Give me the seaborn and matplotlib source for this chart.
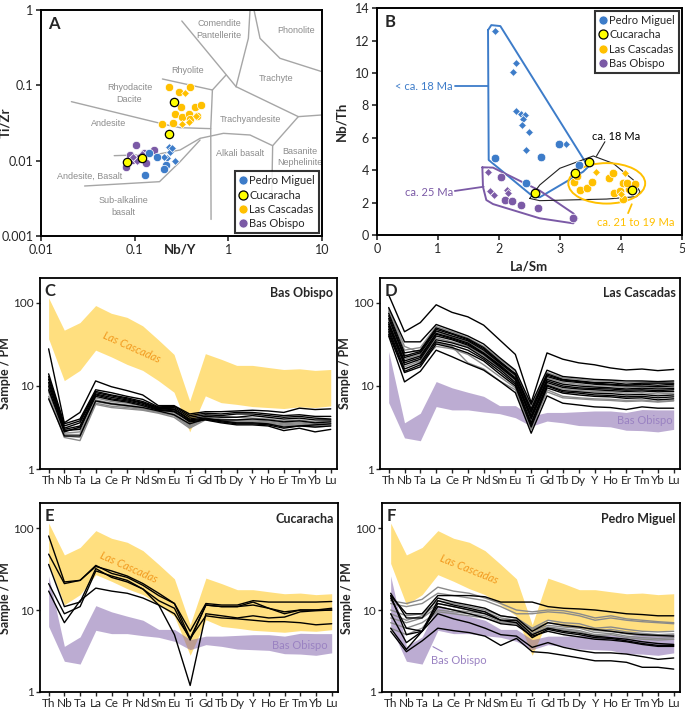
import numpy as np
import pandas as pd
import seaborn as sns
import matplotlib.pyplot as plt
from matplotlib.lines import Line2D
from matplotlib.patches import Ellipse
from matplotlib.ticker import NullLocator

sns.set_style("ticks")
plt.rcParams['font.family'] = ['Lato', 'DejaVu Sans']

BLUE = "#3D7CC9"
YELLOW = "#FFFF00"
ORANGE = "#FFC000"
PURPLE = "#7B5AA6"
FIELD = "#8C8C8C"

# ---- Panel A: Nb/Y vs Ti/Zr (Winchester & Floyd) ----
pm_circ_nby = [0.1275, 0.1726, 0.1407, 0.217, 0.2067]
pm_circ_tizr = [0.00645, 0.0113, 0.01277, 0.00876, 0.00767]
pm_diam_nby = [0.230, 0.2393, 0.2243, 0.271, 0.2067, 0.2496]
pm_diam_tizr = [0.01534, 0.01317, 0.01074, 0.0099, 0.0113, 0.01458]
cuc_nby = [0.264, 0.2338, 0.1194, 0.0833]
cuc_tizr = [0.0595, 0.0226, 0.01096, 0.0097]
lc_circ_nby = [0.230, 0.299, 0.391, 0.309, 0.271, 0.322, 0.379, 0.442, 0.517, 0.197, 0.256, 0.391, 0.461]
lc_circ_tizr = [0.0941, 0.0824, 0.0941, 0.0511, 0.0412, 0.0376, 0.0412, 0.0511, 0.0543, 0.0304, 0.0313, 0.0354, 0.0392]
lc_diam_nby = [0.341, 0.322, 0.379, 0.45]
lc_diam_tizr = [0.0783, 0.0304, 0.0329, 0.0392]
bo_circ_nby = [0.1031, 0.159, 0.0890, 0.0818, 0.1318, 0.1146, 0.0934, 0.1245]
bo_circ_tizr = [0.01614, 0.01371, 0.01189, 0.00832, 0.0094, 0.0113, 0.0102, 0.01252]
bo_diam_nby = [0.0967, 0.1124, 0.119, 0.105]
bo_diam_tizr = [0.0113, 0.0102, 0.0123, 0.0098]

# field boundaries (Nb/Y, Ti/Zr)
field_lines = [
    [(0.0211, 0.0607), (0.221, 0.0298), (0.306, 0.0274), (0.65, 0.0266)],
    [(0.198, 0.1214), (0.677, 0.0867)],
    [(0.677, 0.0867), (0.65, 0.0266), (0.655, 0.00166)],
    [(0.677, 0.0867), (0.947, 0.1371)],
    [(0.319, 0.7145), (1.211, 0.096)],
    [(1.708, 1.0), (1.64, 0.4206), (1.211, 0.096)],
    [(1.884, 1.0), (2.183, 0.4206), (3.567, 0.2283), (10, 0.1518)],
    [(1.211, 0.096), (5.6, 0.0384), (10, 0.0404)],
    [(5.6, 0.0384), (2.98, 0.0158), (2.908, 0.003)],
    [(0.0605, 0.01165), (0.1726, 0.01213), (0.306, 0.01386), (0.5, 0.01979),
     (0.887, 0.02305), (1.708, 0.02191), (2.98, 0.0158)],
    [(0.0292, 0.00461), (0.1843, 0.00526), (0.306, 0.0097), (0.5, 0.0188)],
]
field_labels = [
    ("Comendite\nPantellerite", 0.80, 0.554),
    ("Phonolite", 5.24, 0.532),
    ("Rhyolite", 0.364, 0.157),
    ("Trachyte", 3.23, 0.124),
    ("Rhyodacite\nDacite", 0.088, 0.078),
    ("Trachyandesite", 1.74, 0.0354),
    ("Andesite", 0.0527, 0.0307),
    ("Basanite\nNephelinite", 5.8, 0.0112),
    ("Alkali basalt", 1.34, 0.0123),
    ("Andesite, Basalt", 0.033, 0.00613),
    ("Sub-alkaline\nbasalt", 0.075, 0.00245),
]

# ---- Panel B: La/Sm vs Nb/Th ----
b_pm_circ_x = [1.94, 2.69, 2.98, 2.44, 3.31]
b_pm_circ_y = [4.73, 4.84, 5.60, 3.19, 4.32]
b_pm_diam_x = [1.94, 2.29, 2.24, 2.28, 2.37, 2.43, 2.40, 2.38, 2.49, 2.45, 3.10]
b_pm_diam_y = [12.61, 10.6, 10.08, 7.67, 7.47, 7.41, 7.14, 6.79, 6.38, 5.25, 5.60]
b_cuc_x = [2.60, 3.25, 3.48, 4.19]
b_cuc_y = [2.61, 3.81, 4.53, 2.76]
b_lc_circ_x = [3.24, 3.33, 3.44, 3.53, 3.80, 3.88, 3.89, 3.98, 4.03, 4.03, 4.14, 4.10, 4.24, 3.29]
b_lc_circ_y = [3.29, 2.78, 2.88, 3.25, 3.50, 3.81, 2.61, 2.74, 3.19, 2.20, 2.82, 3.23, 3.15, 3.66]
b_lc_diam_x = [3.59, 4.07, 4.00]
b_lc_diam_y = [3.91, 3.85, 2.53]
b_bo_circ_x = [2.03, 2.10, 2.21, 2.37, 2.65, 3.22]
b_bo_circ_y = [3.56, 2.16, 2.10, 1.85, 1.65, 1.03]
b_bo_diam_x = [1.82, 1.86, 1.92, 2.14, 2.15]
b_bo_diam_y = [3.91, 2.72, 2.47, 2.78, 2.61]

blue_outline = [(1.824, 12.65), (1.878, 12.96), (2.026, 12.90), (3.467, 4.22), (3.384, 3.91),
                (2.672, 2.33), (2.563, 2.37), (1.835, 4.63), (1.824, 12.65)]
purple_outline = [(1.731, 4.18), (1.906, 4.16), (2.672, 2.74), (3.22, 1.34), (3.286, 1.03),
                  (3.22, 0.72), (2.672, 1.03), (1.906, 1.91), (1.796, 2.16), (1.741, 2.98), (1.731, 4.18)]
black_outline = [(2.508, 2.26), (2.672, 3.09), (3.001, 4.12), (3.549, 4.88), (3.877, 4.42),
                 (4.206, 3.40), (4.315, 2.67), (4.261, 2.37), (3.768, 2.22), (2.672, 2.12), (2.508, 2.26)]

# ---- Spider diagrams ----
elements = ["Th", "Nb", "Ta", "La", "Ce", "Pr", "Nd", "Sm", "Eu", "Ti",
            "Gd", "Tb", "Dy", "Y", "Ho", "Er", "Tm", "Yb", "Lu"]

lc_band_hi = [115, 47, 58, 93, 75, 67, 53, 36, 24, 6.6, 24.5, 21, 17.7, 17.7, 16.7, 15.8, 16.1, 15.4, 15.8]
lc_band_lo = [37, 11.6, 15.4, 27, 22.4, 18.2, 15.4, 11.6, 8.4, 2.8, 7.6, 6.3, 6.0, 5.65, 5.5, 5.35, 5.6, 5.5, 5.75]
bo_band_hi = [26, 3.6, 4.7, 11.3, 9.5, 8.4, 7.5, 5.8, 5.8, 4.35, 4.8, 4.8, 4.9, 5.0, 5.0, 4.8, 5.2, 5.15, 5.15]
bo_band_lo = [6.3, 2.37, 2.19, 5.65, 5.15, 5.15, 4.86, 4.64, 4.15, 3.28, 3.78, 3.6, 3.34, 3.28, 3.22, 2.93, 2.9, 2.8, 3.0]

bas_obispo_black = [
    [28, 3.6, 4.8, 11.5, 9.8, 8.8, 7.8, 5.8, 5.8, 4.6, 4.9, 4.9, 5.0, 5.1, 5.0, 4.8, 5.4, 5.2, 5.3],
    [14, 3.5, 4.0, 9.0, 8.3, 7.5, 6.9, 5.6, 5.7, 4.4, 4.7, 4.6, 4.8, 4.8, 4.6, 4.4, 4.5, 4.3, 4.3],
    [13, 3.3, 3.8, 8.6, 7.8, 7.2, 6.5, 5.5, 5.5, 4.2, 4.5, 4.4, 4.6, 4.6, 4.4, 4.2, 4.3, 4.1, 4.0],
    [12, 3.1, 3.6, 8.3, 7.6, 7.0, 6.3, 5.4, 5.3, 4.0, 4.3, 4.2, 4.2, 4.4, 4.2, 4.0, 4.1, 3.9, 3.9],
    [11, 3.0, 3.3, 8.0, 7.3, 6.8, 6.2, 5.3, 5.2, 3.9, 4.1, 3.8, 3.6, 3.6, 3.5, 3.2, 3.3, 3.2, 3.3],
    [10, 2.9, 3.0, 7.8, 7.0, 6.6, 6.0, 5.2, 5.0, 3.7, 3.9, 3.6, 3.4, 3.4, 3.3, 2.9, 3.1, 2.8, 3.0],
    [9, 2.8, 3.2, 7.5, 6.8, 6.4, 5.8, 5.1, 4.9, 3.8, 4.0, 3.7, 3.5, 3.5, 3.4, 3.1, 3.3, 3.4, 3.5],
    [7, 2.5, 2.5, 6.6, 6.1, 5.8, 5.5, 5.0, 4.5, 3.5, 4.0, 3.9, 3.9, 4.0, 3.9, 3.7, 3.8, 3.6, 3.7],
]
bas_obispo_gray = [
    [12.5, 2.9, 3.1, 7.2, 6.5, 6.2, 5.7, 5.2, 5.0, 3.6, 4.4, 4.3, 4.2, 4.1, 4.0, 3.8, 3.9, 3.7, 3.8],
    [10.5, 2.7, 2.8, 6.8, 6.2, 5.9, 5.5, 5.0, 4.8, 3.4, 4.2, 4.0, 3.9, 3.9, 3.8, 3.6, 3.7, 3.5, 3.6],
    [9.5, 2.6, 2.6, 6.5, 6.0, 5.7, 5.3, 4.9, 4.6, 3.3, 4.1, 3.9, 3.8, 3.8, 3.7, 3.5, 3.6, 3.4, 3.5],
    [8.5, 2.5, 2.4, 6.2, 5.7, 5.5, 5.2, 4.8, 4.4, 3.2, 4.0, 3.8, 3.7, 3.7, 3.6, 3.4, 3.5, 3.3, 3.4],
    [7.5, 2.4, 2.2, 6.0, 5.5, 5.3, 5.1, 4.7, 4.2, 3.1, 3.9, 3.7, 3.6, 3.6, 3.5, 3.3, 3.4, 3.2, 3.3],
]

las_cascadas_black = [
    [125, 45, 58, 95, 77, 68, 54, 36, 24, 6.3, 25, 21, 19, 18, 16.5, 15.6, 16, 15.3, 15.8],
    [88, 34, 34, 55, 47, 40, 32, 22, 15.5, 6.0, 15.5, 13, 12.5, 12, 11.8, 11.5, 11.5, 11.3, 11.5],
    [75, 25, 27, 50, 43, 37, 29, 20, 14, 5.3, 14, 12, 11.5, 11, 11, 10.5, 10.8, 10.8, 10.8],
    [70, 23, 26, 48, 42, 36, 28, 19.5, 14, 5.0, 13.5, 11.8, 11.3, 10.8, 10.5, 10.2, 10.5, 10.2, 10.5],
    [65, 22, 25, 46, 40, 35, 27, 19, 13.5, 4.8, 13, 11.5, 11, 10.5, 10.3, 10, 10, 9.8, 10],
    [58, 20, 23, 43, 38, 33, 25, 18, 12.5, 4.4, 12, 10.5, 10, 9.7, 9.5, 9.2, 9.4, 9.2, 9.3],
    [55, 19, 22, 42, 37, 32, 24.5, 17.5, 12, 4.2, 11.5, 10, 9.5, 9.3, 9.2, 8.9, 9, 8.8, 9],
    [52, 18, 21, 40, 36, 31, 24, 17, 12, 4.0, 11, 9.6, 9.2, 9, 8.8, 8.6, 8.7, 8.5, 8.6],
    [48, 16, 19, 36, 33, 29, 22, 16, 11, 3.6, 10.2, 8.8, 8.5, 8.2, 8.1, 7.8, 7.9, 7.6, 7.8],
    [45, 15, 18, 34, 31, 27, 21, 15, 10.5, 3.4, 10, 8.5, 8.2, 7.8, 7.7, 7.4, 7.5, 7.2, 7.4],
    [42, 14.5, 17, 32, 29, 25, 20, 14, 10, 3.2, 9.5, 8.2, 7.8, 7.5, 7.4, 7.1, 7.2, 6.8, 7],
    [40, 11.2, 15, 27, 22.5, 18.5, 15.5, 11.5, 8.3, 2.7, 7.6, 6.2, 5.9, 5.6, 5.5, 5.2, 5.6, 5.4, 5.4],
]
las_cascadas_gray = [
    [80, 27, 29, 52, 45, 38, 30, 21, 15, 5.6, 14.5, 12.5, 12, 11.5, 11.5, 11, 11.2, 11, 11.2],
    [62, 21, 24, 45, 39, 34, 26, 18.5, 13, 4.6, 12.5, 11, 10.5, 10, 10, 9.6, 9.8, 9.5, 9.6],
    [50, 17, 20, 38, 34, 30, 23, 16.5, 11.5, 3.8, 10.5, 9.2, 8.8, 8.6, 8.5, 8.2, 8.3, 8, 8.2],
    [60, 24, 19, 30, 28, 24, 18, 13, 9.5, 3.0, 9, 7.5, 7.2, 7, 6.9, 6.7, 6.8, 6.5, 6.7],
    [85, 30, 25, 33, 30, 19, 16, 11.5, 9, 3.1, 8.5, 7.2, 7, 6.8, 6.7, 6.5, 6.6, 6.4, 6.6],
]

cucaracha_black = [
    [80, 22, 23, 35, 28, 25, 20, 15, 12, 5.5, 12, 11.5, 11.5, 13, 12.5, 12.5, 12.5, 12.5, 12.7],
    [48, 21, 23, 34, 30, 26, 21, 16, 12, 4.5, 11.5, 11, 11, 12.5, 10.5, 9.5, 10, 10, 10.5],
    [36, 11, 12.5, 32, 25, 22, 18, 13, 10.5, 4.3, 11.5, 11, 11, 11.5, 10.5, 9, 10, 10, 10],
    [21, 9, 11, 30, 26, 23, 18, 11.5, 5, 1.2, 9, 8.5, 8, 8.5, 8, 8.2, 9.5, 9.8, 10],
    [17, 7, 13, 18.5, 17, 16, 14, 11.5, 9, 4.5, 8.5, 8, 7.8, 7.5, 7.2, 7.2, 7, 6.6, 6.8],
]
cucaracha_gray = []

pedro_miguel_black = [
    [15, 9, 9, 15, 15, 15, 14.5, 12.5, 12.5, 12.5, 11, 10.5, 10.3, 10, 9.5, 9, 8.8, 8.5, 8.5],
    [16, 8, 8, 14, 12.5, 11.5, 10.5, 8.5, 8, 5.5, 7, 6.5, 6.2, 5.8, 5.5, 5.2, 5, 4.9, 4.8],
    [14, 6, 5.5, 13, 11.5, 10.5, 9.5, 7.5, 7.5, 5, 6, 5.5, 5.2, 4.8, 4.6, 4.4, 4.1, 3.9, 3.8],
    [15, 5, 5.5, 12, 11, 10, 9, 7.5, 7, 4.6, 5.8, 5.3, 5, 4.6, 4.5, 4.2, 3.9, 3.7, 3.7],
    [9, 4, 5.5, 11, 10, 9, 8, 6.8, 6.5, 4.8, 5.5, 5, 4.7, 4.4, 4.3, 4.1, 3.8, 3.6, 3.6],
    [6, 3.3, 5.5, 9, 7.8, 7, 6, 5, 4.8, 3.5, 4, 3.5, 3.2, 3, 3, 2.9, 2.7, 2.5, 2.6],
    [5.5, 3.1, 4.2, 6, 5.6, 5.3, 4.8, 3.7, 4.5, 3.1, 3.0, 2.8, 2.6, 2.4, 2.4, 2.3, 2.0, 2.0, 1.9],
]
pedro_miguel_gray = [
    [13, 12, 13.5, 19, 17, 16, 14, 12, 10, 9.5, 10, 9.8, 9, 8, 8.5, 7.8, 7.5, 7.2, 7],
    [12, 11, 12, 16, 15, 14, 13, 11, 9, 9, 9.5, 9.2, 8.5, 7.5, 8, 7.5, 7.2, 7, 6.8],
    [10, 8.5, 9, 13, 12, 11, 10, 8.5, 8, 6, 7.5, 7, 6.8, 6, 6.2, 5.8, 5.5, 5.4, 5.5],
    [9, 7.5, 8.5, 12, 11, 10, 9.5, 8, 7.5, 5.8, 7, 6.6, 6.3, 5.6, 5.8, 5.4, 5.2, 5, 5.1],
    [8, 7, 8, 11, 10, 9.5, 9, 7.5, 7.2, 5.5, 6.5, 6.2, 6, 5.3, 5.5, 5.1, 4.9, 4.8, 4.9],
    [6, 5, 6, 10, 9.5, 9, 8.5, 7.2, 7, 5.2, 6.2, 5.9, 5.6, 5, 5.2, 4.8, 4.6, 4.5, 4.6],
    [7, 6, 7, 9.5, 9, 8.5, 8, 7, 6.8, 5, 6, 5.7, 5.4, 4.8, 5, 4.6, 4.4, 4.3, 4.4],
]

fig = plt.figure(figsize=(6.85, 7.13), dpi=100)
axA = fig.add_axes([0.0599, 0.669, 0.410, 0.317])
axB = fig.add_axes([0.550, 0.6704, 0.4453, 0.318])
axC = fig.add_axes([0.0584, 0.3422, 0.4336, 0.268])
axD = fig.add_axes([0.5547, 0.3422, 0.438, 0.268])
axE = fig.add_axes([0.0584, 0.0295, 0.4350, 0.2645])
axF = fig.add_axes([0.5577, 0.0295, 0.435, 0.2645])


def frame(ax, lw=1.4):
    for s in ax.spines.values():
        s.set_visible(True)
        s.set_linewidth(lw)
        s.set_color("black")


def scatter_group(ax, x, y, color, marker, size, edge="white", lw=0.5):
    sns.scatterplot(x=x, y=y, ax=ax, color=color, marker=marker, s=size,
                    edgecolor=edge, linewidth=lw, legend=False, zorder=3)


# ---- A ----
axA.set_xscale("log")
axA.set_yscale("log")
for seg in field_lines:
    xs, ys = zip(*seg)
    axA.plot(xs, ys, color="#A6A6A6", lw=1, zorder=1)
for txt, x, y in field_labels:
    axA.text(x, y, txt, ha="center", va="center", fontsize=6.5, color=FIELD,
             family=["Liberation Sans", "DejaVu Sans"], linespacing=1.4, zorder=2)
scatter_group(axA, lc_circ_nby, lc_circ_tizr, ORANGE, "o", 36)
scatter_group(axA, lc_diam_nby, lc_diam_tizr, ORANGE, "D", 16)
scatter_group(axA, bo_circ_nby, bo_circ_tizr, PURPLE, "o", 36)
scatter_group(axA, bo_diam_nby, bo_diam_tizr, PURPLE, "D", 16)
scatter_group(axA, pm_diam_nby, pm_diam_tizr, BLUE, "D", 16)
scatter_group(axA, pm_circ_nby, pm_circ_tizr, BLUE, "o", 36)
scatter_group(axA, cuc_nby, cuc_tizr, YELLOW, "o", 36, edge="black", lw=0.9)
axA.set_xlim(0.01, 10)
axA.set_ylim(0.001, 1)
axA.set_xticks([0.01, 0.1, 1, 10], ["0.01", "0.1", "1", "10"])
axA.set_yticks([0.001, 0.01, 0.1, 1], ["0.001", "0.01", "0.1", "1"])
axA.xaxis.set_minor_locator(NullLocator())
axA.yaxis.set_minor_locator(NullLocator())
axA.tick_params(labelsize=9, width=1.2, length=3.5, pad=2)
axA.set_xlabel("Nb/Y", fontsize=9.5, fontweight="bold")
axA.xaxis.set_label_coords(0.495, -0.035)
axA.set_ylabel("Ti/Zr", fontsize=9.5, fontweight="bold")
axA.yaxis.set_label_coords(-0.105, 0.5)
frame(axA)
axA.text(0.025, 0.975, "A", transform=axA.transAxes, ha="left", va="top",
         fontsize=12, fontweight="bold")

legend_handles = [
    Line2D([], [], ls="", marker="o", ms=6.5, mfc=BLUE, mec="white", mew=0.5),
    Line2D([], [], ls="", marker="o", ms=6.5, mfc=YELLOW, mec="black", mew=0.9),
    Line2D([], [], ls="", marker="o", ms=6.5, mfc=ORANGE, mec="white", mew=0.5),
    Line2D([], [], ls="", marker="o", ms=6.5, mfc=PURPLE, mec="white", mew=0.5),
]
legend_labels = ["Pedro Miguel", "Cucaracha", "Las Cascadas", "Bas Obispo"]


def add_legend(ax, loc):
    leg = ax.legend(legend_handles, legend_labels, loc=loc, fontsize=8,
                    frameon=True, fancybox=False, handlelength=0.7,
                    handletextpad=0.25, labelspacing=0.3, borderpad=0.35,
                    borderaxespad=0.25)
    leg.get_frame().set_edgecolor("black")
    leg.get_frame().set_linewidth(1.5)
    leg.set_zorder(5)


add_legend(axA, "lower right")

# ---- B ----
for pts, col, lw in [(blue_outline, BLUE, 1.4), (purple_outline, PURPLE, 1.4),
                     (black_outline, "#222222", 0.8)]:
    xs, ys = zip(*pts)
    axB.plot(xs, ys, color=col, lw=lw, zorder=2, solid_joinstyle="round")
axB.add_patch(Ellipse((3.77, 3.19), 1.26, 2.5, fill=False, ec=ORANGE, lw=1.4, zorder=2))
scatter_group(axB, b_lc_circ_x, b_lc_circ_y, ORANGE, "o", 38)
scatter_group(axB, b_lc_diam_x, b_lc_diam_y, ORANGE, "D", 16)
scatter_group(axB, b_bo_circ_x, b_bo_circ_y, PURPLE, "o", 38)
scatter_group(axB, b_bo_diam_x, b_bo_diam_y, PURPLE, "D", 16)
scatter_group(axB, b_pm_diam_x, b_pm_diam_y, BLUE, "D", 16)
scatter_group(axB, b_pm_circ_x, b_pm_circ_y, BLUE, "o", 38)
scatter_group(axB, b_cuc_x, b_cuc_y, YELLOW, "o", 38, edge="black", lw=0.9)
axB.plot([1.28, 1.824], [9.2, 9.2], color=BLUE, lw=1.3)
axB.text(1.25, 9.2, "< ca. 18 Ma", color=BLUE, fontsize=8, ha="right", va="center")
axB.plot([1.28, 1.752], [2.72, 2.98], color=PURPLE, lw=1.3)
axB.text(1.25, 2.62, "ca. 25 Ma", color=PURPLE, fontsize=8, ha="right", va="center")
axB.plot([3.74, 3.60], [5.76, 4.86], color="#222222", lw=0.8)
axB.text(3.93, 6.1, "ca. 18 Ma", color="black", fontsize=8, ha="center", va="center")
axB.plot([4.18, 4.12], [1.9, 1.35], color=ORANGE, lw=1.3)
axB.text(4.25, 0.8, "ca. 21 to 19 Ma", color=ORANGE, fontsize=8, ha="center", va="center")
axB.set_xlim(0, 5)
axB.set_ylim(0, 14)
axB.set_xticks(range(0, 6))
axB.set_yticks(range(0, 15, 2))
axB.tick_params(labelsize=9, width=1.2, length=3.5, pad=2)
axB.set_xlabel("La/Sm", fontsize=9.5, fontweight="bold", labelpad=4)
axB.set_ylabel("Nb/Th", fontsize=9.5, fontweight="bold")
axB.yaxis.set_label_coords(-0.095, 0.5)
frame(axB)
axB.text(0.025, 0.975, "B", transform=axB.transAxes, ha="left", va="top",
         fontsize=12, fontweight="bold")
add_legend(axB, "upper right")

# ---- spider panels ----
pos = np.arange(len(elements))


def band(ax, lo, hi, color, alpha):
    ax.fill_between(pos, lo, hi, color=color, alpha=alpha, lw=0, zorder=1)


def spider(ax, black_rows, gray_rows, letter, title):
    recs = []
    for k, row in enumerate(gray_rows):
        for p, v in zip(pos, row):
            recs.append(("g%d" % k, "gray", p, v))
    for k, row in enumerate(black_rows):
        for p, v in zip(pos, row):
            recs.append(("b%d" % k, "black", p, v))
    df = pd.DataFrame(recs, columns=["sample", "tone", "pos", "value"])
    sns.lineplot(data=df, x="pos", y="value", units="sample", estimator=None,
                 hue="tone", palette={"black": "black", "gray": "#8A8A8A"},
                 lw=1.0, legend=False, sort=False, ax=ax, zorder=3)
    ax.set_yscale("log")
    ax.set_ylim(1, 200)
    ax.set_xlim(-0.55, 18.4)
    ax.set_xticks(pos, elements)
    ax.set_yticks([1, 10, 100], ["1", "10", "100"])
    ax.yaxis.set_minor_locator(NullLocator())
    ax.tick_params(labelsize=8.5, width=1.0, length=3, pad=1.5)
    ax.set_xlabel("")
    ax.set_ylabel("Sample / PM", fontsize=9, fontweight="bold")
    ax.yaxis.set_label_coords(-0.098, 0.5)
    frame(ax, 1.3)
    ax.text(0.015, 0.975, letter, transform=ax.transAxes, ha="left", va="top",
            fontsize=12, fontweight="bold")
    ax.text(0.985, 0.95, title, transform=ax.transAxes, ha="right", va="top",
            fontsize=9, fontweight="bold")


LC_BAND = "#FFC000"
BO_BAND = "#7B5AA6"
LC_TEXT = "#F29A1F"
BO_TEXT = "#9A82C2"

band(axC, lc_band_lo, lc_band_hi, LC_BAND, 0.5)
spider(axC, bas_obispo_black, bas_obispo_gray, "C", "Bas Obispo")
axC.text(5.3, 29, "Las Cascadas", color=LC_TEXT, fontsize=8, rotation=-24,
         ha="center", va="center", style="italic")

band(axD, bo_band_lo, bo_band_hi, BO_BAND, 0.5)
spider(axD, las_cascadas_black, las_cascadas_gray, "D", "Las Cascadas")
axD.text(16.2, 3.8, "Bas Obispo", color=BO_TEXT, fontsize=8, ha="center", va="center")

band(axE, lc_band_lo, lc_band_hi, LC_BAND, 0.5)
band(axE, bo_band_lo, bo_band_hi, BO_BAND, 0.5)
spider(axE, cucaracha_black, cucaracha_gray, "E", "Cucaracha")
axE.text(5.1, 33, "Las Cascadas", color=LC_TEXT, fontsize=8, rotation=-24,
         ha="center", va="center", style="italic")
axE.text(16.0, 3.67, "Bas Obispo", color=BO_TEXT, fontsize=8, ha="center", va="center")

band(axF, lc_band_lo, lc_band_hi, LC_BAND, 0.5)
band(axF, bo_band_lo, bo_band_hi, BO_BAND, 0.5)
spider(axF, pedro_miguel_black, pedro_miguel_gray, "F", "Pedro Miguel")
axF.text(5.0, 31, "Las Cascadas", color=LC_TEXT, fontsize=8, rotation=-22,
         ha="center", va="center", style="italic")
axF.text(4.35, 2.41, "Bas Obispo", color=BO_TEXT, fontsize=8, ha="center", va="center")
axF.plot([3.28, 2.69], [3.1, 3.57], color=BO_TEXT, lw=0.8, zorder=4)

fig.savefig("out.png", dpi=100)
